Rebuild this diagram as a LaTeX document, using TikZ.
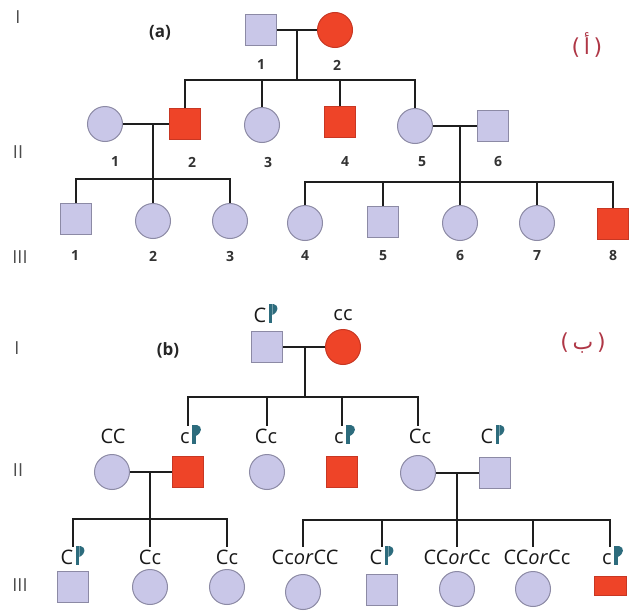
\documentclass[tikz,border=0pt]{standalone}
\usepackage{fontspec}
\setmainfont{Open Sans}
\newfontfamily\arabicfont[Script=Arabic]{DejaVu Sans}
\TeXXeTstate=1
\definecolor{lav}{RGB}{201,199,232}
\definecolor{lavb}{RGB}{140,138,165}
\definecolor{redf}{RGB}{238,68,40}
\definecolor{redb}{RGB}{200,55,35}
\definecolor{flagc}{RGB}{45,108,125}
\definecolor{lnc}{RGB}{30,30,30}
\definecolor{arc}{RGB}{175,55,70}
\begin{document}
\begin{tikzpicture}[x=1pt,y=-1pt,
 sq/.style={rectangle,draw=lavb,fill=lav,line width=1pt,minimum size=31pt,inner sep=0pt},
 ci/.style={circle,draw=lavb,fill=lav,line width=1pt,minimum size=35pt,inner sep=0pt},
 aff/.style={fill=redf,draw=redb},
 ln/.style={draw=lnc,line width=2.4pt},
 num/.style={font=\fontsize{14}{14}\selectfont\bfseries,text=black!80},
 gen/.style={font=\fontsize{18}{18}\selectfont,text=black!70},
 panel/.style={font=\fontsize{17}{17}\selectfont\bfseries,text=black!85},
 arab/.style={font=\fontsize{22}{22}\selectfont\arabicfont,text=arc},
 geno/.style={font=\fontsize{20}{20}\selectfont,text=black!90,inner sep=2pt,text height=15pt,text depth=1pt},
 yflag/.pic={\fill[flagc] (0,1) rectangle (3.8,-18);
   \fill[flagc] (3.8,-18) -- (5,-18) .. controls (10.5,-17) and (10.5,-10) .. (3.8,-7) -- cycle;}
]
\useasboundingbox[fill=white] (0,0) rectangle (630,613);

% ---------- generation numerals ----------
\node[gen] (rIa) at (18,17) {I};
\node[gen] (rIIa) at (18,152) {II};
\node[gen] (rIIIa) at (20,257) {III};
\node[gen] (rIb) at (17,348) {I};
\node[gen] (rIIb) at (18,470) {II};
\node[gen] (rIIIb) at (20,585) {III};

\node[panel] (pa) at (160,33) {(a)};
\node[panel] (pb) at (168,350) {(b)};
\node[arab] (ara) at (587,45) {\beginR(\,أ\,)\endR};
\node[arab] (arb) at (583,343) {\beginR(\,ب\,)\endR};

% ================= (a) =================
\node[sq] (aI1) at (261,30) {};
\node[ci,aff] (aI2) at (335,30) {};
\node[num] (naI1) at (261,65) {1};
\node[num] (naI2) at (337,65) {2};
\coordinate (amI) at (297,30);
\coordinate (asI) at (297,80);

\node[ci] (aII1) at (105,124) {};
\node[sq,aff] (aII2) at (185,124) {};
\node[ci] (aII3) at (262,125) {};
\node[sq,aff] (aII4) at (340,122) {};
\node[ci] (aII5) at (415,126) {};
\node[sq] (aII6) at (493,126) {};
\foreach \n/\x in {1/115,2/192,3/268,4/345,5/422,6/498}
  \node[num] (naII\n) at (\x,162) {\n};

\coordinate (amIIa) at (153,124);
\coordinate (asIIa) at (153,179);
\coordinate (amIIb) at (460,126);
\coordinate (asIIb) at (460,182);

\node[sq] (aIII1) at (76,219) {};
\node[ci] (aIII2) at (153,221) {};
\node[ci] (aIII3) at (230,221) {};
\node[ci] (aIII4) at (305,223) {};
\node[sq] (aIII5) at (383,222) {};
\node[ci] (aIII6) at (460,223) {};
\node[ci] (aIII7) at (537,223) {};
\node[sq,aff] (aIII8) at (613,224) {};
\foreach \n/\x in {1/75,2/153,3/230,4/305,5/383,6/460,7/537,8/613}
  \node[num] (naIII\n) at (\x,256) {\n};

\draw[ln] (aI1.east) -- (aI2.west);
\draw[ln] (amI) -- (asI);
\draw[ln] (aII2.north) |- (asI) -| (aII5.north);
\draw[ln] (aII3.north) -- (aII3.north |- asI);
\draw[ln] (aII4.north) -- (aII4.north |- asI);

\draw[ln] (aII1.east) -- (aII2.west);
\draw[ln] (amIIa) -- (asIIa);
\draw[ln] (aIII1.north) |- (asIIa) -| (aIII3.north);
\draw[ln] (asIIa) -- (aIII2.north);

\draw[ln] (aII5.east) -- (aII6.west);
\draw[ln] (amIIb) -- (asIIb);
\draw[ln] (aIII4.north) |- (asIIb) -| (aIII8.north);
\draw[ln] (aIII5.north) -- (aIII5.north |- asIIb);
\draw[ln] (aIII6.north) -- (asIIb);
\draw[ln] (aIII7.north) -- (aIII7.north |- asIIb);

% ================= (b) =================
\node[sq] (bI1) at (267,347) {};
\node[ci,aff] (bI2) at (343,347) {};
\node[geno] (gI1) at (260,315) {C};
\pic at (gI1.base east) {yflag};
\node[geno] (gI2) at (343,313) {cc};
\coordinate (bmI) at (305,347);
\coordinate (bsI) at (305,397);

\node[ci] (bII1) at (112,472) {};
\node[sq,aff] (bII2) at (188,472) {};
\node[ci] (bII3) at (267,472) {};
\node[sq,aff] (bII4) at (342,472) {};
\node[ci] (bII5) at (418,473) {};
\node[sq] (bII6) at (495,473) {};

\node[geno] (gII1) at (113,436) {CC};
\node[geno] (gII2) at (185,436) {c};
\pic at (gII2.base east) {yflag};
\node[geno] (gII3) at (266,436) {Cc};
\node[geno] (gII4) at (339,436) {c};
\pic at (gII4.base east) {yflag};
\node[geno] (gII5) at (420,436) {Cc};
\node[geno] (gII6) at (487,436) {C};
\pic at (gII6.base east) {yflag};

\coordinate (bmIIa) at (150,472);
\coordinate (bsIIa) at (150,519);
\coordinate (bmIIb) at (457,473);
\coordinate (bsIIb) at (457,520);

\node[sq] (bIII1) at (73,587) {};
\node[ci] (bIII2) at (150,587) {};
\node[ci] (bIII3) at (227,587) {};
\node[ci] (bIII4) at (303,592) {};
\node[sq] (bIII5) at (382,590) {};
\node[ci] (bIII6) at (457,589) {};
\node[ci] (bIII7) at (533,589) {};
\node[rectangle,draw=redb,fill=redf,line width=1pt,minimum width=32pt,minimum height=19pt,inner sep=0pt] (bIII8) at (610,586) {};

\node[geno] (gIII1) at (67,557) {C};
\pic at (gIII1.base east) {yflag};
\node[geno] (gIII2) at (150,557) {Cc};
\node[geno] (gIII3) at (227,557) {Cc};
\node[geno] (gIII4) at (305,557) {Cc\textit{or}CC};
\node[geno] (gIII5) at (376,557) {C};
\pic at (gIII5.base east) {yflag};
\node[geno] (gIII6) at (457,557) {CC\textit{or}Cc};
\node[geno] (gIII7) at (537,557) {CC\textit{or}Cc};
\node[geno] (gIII8) at (607,557) {c};
\pic at (gIII8.base east) {yflag};

\draw[ln] (bI1.east) -- (bI2.west);
\draw[ln] (bmI) -- (bsI);
\draw[ln] (bII2 |- gII2.north) |- (bsI) -| (bII5 |- gII5.north);
\draw[ln] (bII3 |- gII3.north) -- (bII3 |- bsI);
\draw[ln] (bII4 |- gII4.north) -- (bII4 |- bsI);

\draw[ln] (bII1.east) -- (bII2.west);
\draw[ln] (bmIIa) -- (bsIIa);
\draw[ln] (bIII1 |- gIII1.north) |- (bsIIa) -| (bIII3 |- gIII3.north);
\draw[ln] (bsIIa) -- (bIII2 |- gIII2.north);

\draw[ln] (bII5.east) -- (bII6.west);
\draw[ln] (bmIIb) -- (bsIIb);
\draw[ln] (bIII4 |- gIII4.north) |- (bsIIb) -| (bIII8 |- gIII8.north);
\draw[ln] (bIII5 |- gIII5.north) -- (bIII5 |- bsIIb);
\draw[ln] (bIII6 |- gIII6.north) -- (bsIIb);
\draw[ln] (bIII7 |- gIII7.north) -- (bIII7 |- bsIIb);
\end{tikzpicture}
\end{document}
